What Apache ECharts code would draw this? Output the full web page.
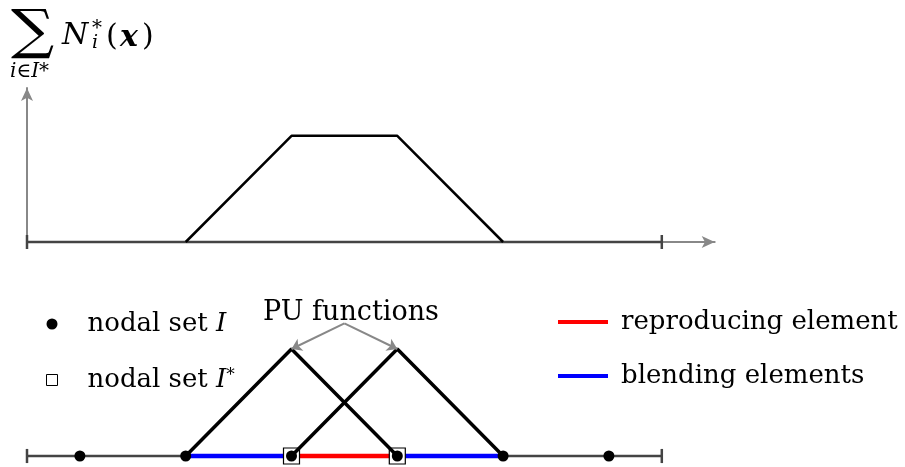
<!DOCTYPE html>
<html><head><meta charset="utf-8">
<script src="https://cdn.jsdelivr.net/npm/echarts@6/dist/echarts.min.js"></script>
<style>html,body{margin:0;padding:0;background:#fff}#c{width:905px;height:467px}</style>
</head><body><div id="c"></div>
<script>
// ---- data ----
const axisEnds = [0, 6];                       // ends of the 1D domain (tick marks)
const sumShape = [[1.5, 0], [2.5, 1], [3.5, 1], [4.5, 0]];   // sum of N_i^*(x)
const nodesI = [0.5, 1.5, 2.5, 3.5, 4.5, 5.5];               // nodal set I
const nodesIStar = [2.5, 3.5];                                // nodal set I*
const puFunc1 = [[1.5, 0], [2.5, 1], [3.5, 0]];
const puFunc2 = [[2.5, 0], [3.5, 1], [4.5, 0]];
const reproducing = [[2.5, 3.5]];              // reproducing element(s)
const blending = [[1.5, 2.5], [3.5, 4.5]];     // blending elements
const puLabelAnchor = [3.0, 1.24];
const puLabel = 'PU functions';
const legendNames = ['nodal set I', 'nodal set I*', 'reproducing element', 'blending elements'];

// ---- build ----
const FONT = 'DejaVu Serif';
const chart = echarts.init(document.getElementById('c'), null, {renderer: 'canvas'});

function segs(pairs) {
  const out = [];
  pairs.forEach((p, k) => {
    if (k > 0) out.push([(pairs[k - 1][1] + p[0]) / 2, '-']);
    out.push([p[0], 0], [p[1], 0]);
  });
  return out;
}
const axisLineSeries = (gi, tickH, z) => {
  const s = [{
    type: 'line', xAxisIndex: gi, yAxisIndex: gi, data: [[axisEnds[0], 0], [axisEnds[1], 0]],
    symbol: 'none', clip: false, lineStyle: {color: '#444', width: 2.5}, z, silent: true
  }];
  axisEnds.forEach(e => s.push({
    type: 'line', xAxisIndex: gi, yAxisIndex: gi, data: [[e, -tickH], [e, tickH]],
    symbol: 'none', clip: false, lineStyle: {color: '#444', width: 2.5}, z, silent: true
  }));
  return s;
};

const rich = {
  sp: {width: 25},
  sp2: {width: 8},
  r: {fontFamily: FONT, fontSize: 26, color: '#000'},
  i: {fontFamily: FONT, fontSize: 26, fontStyle: 'italic', color: '#000'},
  s: {fontFamily: FONT, fontSize: 17, color: '#000', verticalAlign: 'top'}
};

const hiddenAxis = (gi, min, max) => ({
  gridIndex: gi, type: 'value', min, max, show: false
});

const option = {
  animation: false,
  backgroundColor: '#fff',
  grid: [
    {left: 27, top: 88, width: 687.7, height: 154},
    {left: 27, top: 349, width: 634.8, height: 107}
  ],
  xAxis: [
    {gridIndex: 0, type: 'value', min: 0, max: 6.5,
      axisLine: {show: true, symbol: ['none', 'arrow'], symbolSize: [9, 13], lineStyle: {color: '#888', width: 2}},
      axisTick: {show: false}, axisLabel: {show: false}, splitLine: {show: false}},
    hiddenAxis(1, 0, 6)
  ],
  yAxis: [
    {gridIndex: 0, type: 'value', min: 0, max: 1.45,
      axisLine: {show: true, symbol: ['none', 'arrow'], symbolSize: [9, 13], lineStyle: {color: '#888', width: 2}},
      axisTick: {show: false}, axisLabel: {show: false}, splitLine: {show: false}},
    hiddenAxis(1, 0, 1)
  ],
  legend: [
    {orient: 'vertical', left: 41, top: 306, itemWidth: 11, itemHeight: 11, itemGap: 30,
      selectedMode: false,
      data: [
        {name: legendNames[0], icon: 'circle', itemStyle: {color: '#000', opacity: 1}},
        {name: legendNames[1], icon: 'rect', itemStyle: {color: '#fff', borderColor: '#000', borderWidth: 1, opacity: 1}}
      ],
      formatter: n => n === legendNames[0] ? '{sp|}{r|nodal set }{i|I}' : '{sp|}{r|nodal set }{i|I}{s|*}',
      textStyle: {rich}
    },
    {orient: 'vertical', left: 553, top: 304, itemWidth: 50, itemHeight: 4, itemGap: 28,
      selectedMode: false,
      data: [
        {name: legendNames[2], icon: 'rect', itemStyle: {color: '#ff0000'}},
        {name: legendNames[3], icon: 'rect', itemStyle: {color: '#0000ff'}}
      ],
      formatter: n => '{sp2|}{r|' + n + '}',
      textStyle: {rich}
    }
  ],
  graphic: [
    {type: 'text', x: 11, y: 34, scaleX: 1.12, style: {text: '\u2211', fontFamily: FONT, fontSize: 54, fill: '#000', verticalAlign: 'middle'}},
    {type: 'text', x: 62, y: 36, style: {text: 'N', fontFamily: FONT, fontSize: 30, fontStyle: 'italic', fill: '#000', verticalAlign: 'middle'}},
    {type: 'text', x: 92, y: 29, style: {text: '*', fontFamily: FONT, fontSize: 20, fill: '#000', verticalAlign: 'middle'}},
    {type: 'text', x: 92, y: 43, style: {text: 'i', fontFamily: FONT, fontSize: 19, fontStyle: 'italic', fill: '#000', verticalAlign: 'middle'}},
    {type: 'text', x: 106, y: 37, style: {text: '(', fontFamily: FONT, fontSize: 30, fill: '#000', verticalAlign: 'middle'}},
    {type: 'text', x: 120, y: 38, style: {text: 'x', fontFamily: FONT, fontSize: 30, fontStyle: 'italic', fontWeight: 'bold', fill: '#000', verticalAlign: 'middle'}},
    {type: 'text', x: 142, y: 37, style: {text: ')', fontFamily: FONT, fontSize: 30, fill: '#000', verticalAlign: 'middle'}},
    {type: 'text', x: 10, y: 72, style: {text: 'i\u2208I*', fontFamily: FONT, fontSize: 20, fontStyle: 'italic', fill: '#000', verticalAlign: 'middle'}},
    {type: 'text', x: 351, y: 313, style: {text: puLabel, fontFamily: FONT, fontSize: 27, fill: '#000', align: 'center', verticalAlign: 'middle'}}
  ],
  series: [
    // top plot
    ...axisLineSeries(0, 0.066, 3),
    {type: 'line', xAxisIndex: 0, yAxisIndex: 0, data: sumShape, symbol: 'none', clip: false,
      lineStyle: {color: '#000', width: 2.5}, z: 4, silent: true},
    // bottom plot
    ...axisLineSeries(1, 0.066, 2),
    {name: legendNames[3], type: 'line', xAxisIndex: 1, yAxisIndex: 1, data: segs(blending), clip: false,
      symbol: 'none', connectNulls: false, color: '#0000ff', lineStyle: {color: '#0000ff', width: 4.5}, z: 3, silent: true},
    {name: legendNames[2], type: 'line', xAxisIndex: 1, yAxisIndex: 1, data: segs(reproducing), clip: false,
      symbol: 'none', color: '#ff0000', lineStyle: {color: '#ff0000', width: 4.5}, z: 3, silent: true},
    {name: legendNames[1], type: 'scatter', xAxisIndex: 1, yAxisIndex: 1, data: nodesIStar.map(x => [x, 0]), clip: false,
      symbol: 'rect', symbolSize: 16, itemStyle: {color: '#fff', borderColor: '#000', borderWidth: 1.2, opacity: 1}, z: 4, silent: true},
    {name: legendNames[0], type: 'scatter', xAxisIndex: 1, yAxisIndex: 1, data: nodesI.map(x => [x, 0]), clip: false,
      symbol: 'circle', symbolSize: 11, itemStyle: {color: '#000', opacity: 1}, z: 5, silent: true},
    {type: 'line', xAxisIndex: 1, yAxisIndex: 1, data: puFunc1, symbol: 'none', clip: false,
      lineStyle: {color: '#000', width: 3.5}, z: 6, silent: true},
    {type: 'line', xAxisIndex: 1, yAxisIndex: 1, data: puFunc2, symbol: 'none', clip: false,
      lineStyle: {color: '#000', width: 3.5}, z: 6, silent: true},
    {type: 'lines', coordinateSystem: 'cartesian2d', xAxisIndex: 1, yAxisIndex: 1, clip: false,
      symbol: ['none', 'arrow'], symbolSize: 10,
      lineStyle: {color: '#888', width: 2, opacity: 1},
      data: [puFunc1[1], puFunc2[1]].map(p => ({coords: [puLabelAnchor, p]})), z: 7, silent: true}
  ]
};
chart.setOption(option);
</script></body></html>
